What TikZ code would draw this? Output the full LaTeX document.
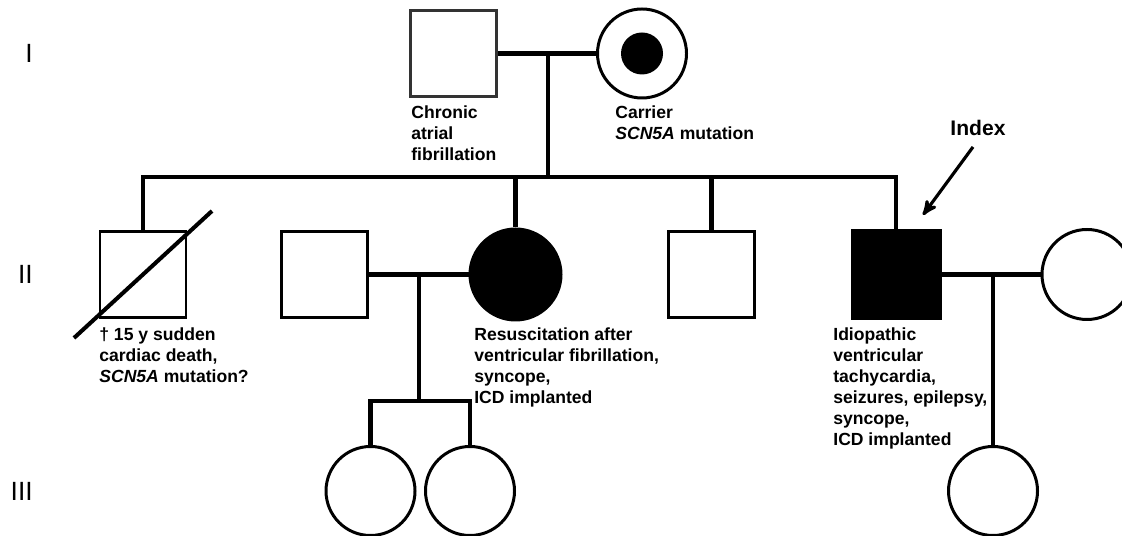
\documentclass[tikz,border=0pt]{standalone}
\usepackage{fontspec}
\setmainfont{Liberation Sans}
\usetikzlibrary{arrows,shapes}

\begin{document}
\begin{tikzpicture}[node distance=3.8cm,>=stealth',auto]
  \tikzstyle{male}=[rectangle,draw,line width=1.7pt,minimum size=1.72cm,inner sep=0pt]
  \tikzstyle{female}=[circle,draw,line width=1.7pt,minimum size=1.8cm,inner sep=0pt]
  \tikzstyle{affected}=[fill=black]
  \tikzstyle{carrier}=[path picture={\fill (path picture bounding box.center) circle (0.42cm);}]
  \tikzstyle{link}=[line width=2.3pt]
  \tikzstyle{note}=[anchor=north west,align=left,inner sep=0pt,font=\bfseries\fontsize{10}{12}\selectfont]
  \tikzstyle{generation}=[anchor=east,inner sep=0pt,font=\fontsize{15}{18}\selectfont]

  \useasboundingbox (0,0) rectangle (22.44,10.72);

    \node [generation] (genI)   at (0.66,9.66) {I};
    \node [generation] (genII)  at (0.66,5.23) {II};
    \node [generation] (genIII) at (0.66,0.90) {III};

    \node [male,draw=black!80] (grandpa) at (9.07,9.65) {};
    \node [female,carrier,minimum size=1.78cm] (grandma) at (12.84,9.65) {};

    \node [male] (brother) at (2.86,5.23) {};
    \node [male] (husband) [node distance=3.63cm,right of=brother] {};
    \node [female,affected,minimum size=1.82cm] (sister) [node distance=3.82cm,right of=husband] {};
    \node [male] (uncle) [node distance=3.92cm,right of=sister] {};
    \node [male,affected,minimum size=1.76cm] (proband) [node distance=3.69cm,right of=uncle] {};
    \node [female] (wife) [node distance=3.82cm,right of=proband] {};

    \node [female,minimum size=1.78cm] (niece1) at (7.41,0.90) {};
    \node [female,minimum size=1.78cm] (niece2) [node distance=1.99cm,right of=niece1] {};
    \node [female,minimum size=1.78cm] (daughter) at (19.86,0.90) {};

    \coordinate (sibI) at (10.96,7.18);
    \coordinate (sibII) at (8.38,2.70);
    \coordinate (pointer) at (18.46,6.42);

    \draw [link] (grandpa) -- (grandma);
    \draw [link] (sibI |- grandpa) -- (sibI);
    \draw [link] (brother) |- (sibI) -| (proband);
    \draw [link] (sister) -- (sister |- sibI);
    \draw [link] (uncle) -- (uncle |- sibI);
    \draw [link] ([shift={(-1.38,-1.27)}]brother.center) -- ([shift={(1.38,1.27)}]brother.center); %deceased

    \draw [link] (husband) -- (sister);
    \draw [link] (sibII |- husband) -- (sibII);
    \draw [link] (niece1) |- (sibII) -| (niece2);

    \draw [link] (proband) -- (wife);
    \draw [link] (daughter |- proband) -- (daughter);

    \node [font=\bfseries\fontsize{12}{14}\selectfont] (indexlabel) at (19.56,8.16) {Index};
    \draw [->,line width=1.8pt] ([xshift=-0.1cm,yshift=-0.1cm]indexlabel.south) -- (pointer);

    \node [note] (chronic) at (8.22,8.62) {Chronic\\atrial\\fibrillation};
    \node [note] (carrierinfo) at (12.30,8.62) {Carrier\\\textit{SCN5A} mutation};
    \node [note] (death) at (1.98,4.18) {† 15 y sudden\\cardiac death,\\\textit{SCN5A} mutation?};
    \node [note] (resus) at (9.48,4.18) {Resuscitation after\\ventricular fibrillation,\\syncope,\\ICD implanted};
    \node [note] (idio) at (16.66,4.18) {Idiopathic\\ventricular\\tachycardia,\\seizures, epilepsy,\\syncope,\\ICD implanted};
\end{tikzpicture}
\end{document}
